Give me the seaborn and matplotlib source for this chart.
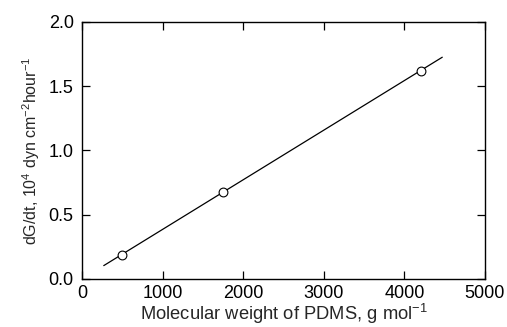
import numpy as np
import pandas as pd
import matplotlib
matplotlib.use("Agg")
import matplotlib.pyplot as plt
import seaborn as sns

# Rate of adhesion build-up vs PDMS molecular weight
mol_weight = [500, 1750, 4200]
dG_dt = [0.19, 0.68, 1.62]

# range of the fitted line
fit_range = [270, 4470]

x_ticks = [0, 1000, 2000, 3000, 4000, 5000]
y_ticks = [0.0, 0.5, 1.0, 1.5, 2.0]

sns.set_style("ticks")
plt.rcParams["font.family"] = ["Liberation Sans", "DejaVu Sans"]

pts = pd.DataFrame({"M": mol_weight, "rate": dG_dt})
slope, intercept = np.polyfit(pts["M"], pts["rate"], 1)
fit = pd.DataFrame({"M": fit_range})
fit["rate"] = slope * fit["M"] + intercept

fig = plt.figure(figsize=(5.07, 3.27), dpi=100)
ax = fig.add_axes([0.1617, 0.1468, 0.7949, 0.786])

sns.lineplot(data=fit, x="M", y="rate", ax=ax, color="black", linewidth=0.9)
sns.scatterplot(data=pts, x="M", y="rate", ax=ax, marker="o", s=40,
                facecolor="white", edgecolor="black", linewidth=0.8, zorder=3)

ax.set_xlim(0, 5000)
ax.set_ylim(0, 2.0)
ax.set_xticks(x_ticks)
ax.set_yticks(y_ticks)
ax.set_xticklabels([str(v) for v in x_ticks])
ax.set_yticklabels([f"{v:.1f}" for v in y_ticks])

for s in ax.spines.values():
    s.set_visible(True)
    s.set_linewidth(1.0)
    s.set_color("black")
ax.tick_params(direction="in", length=6, width=0.9, top=True, right=True,
               labelsize=13, colors="black", pad=4)
ax.tick_params(axis="y", pad=6)

ax.set_xlabel("Molecular weight of PDMS, g mol$^{\\mathregular{-1}}$",
              fontsize=13.2, labelpad=0.5)
ax.set_ylabel("dG/dt, 10$^{\\mathregular{4}}$ dyn cm$^{\\mathregular{-2}}$hour$^{\\mathregular{-1}}$",
              fontsize=11.5, labelpad=5)

fig.savefig("out.png", dpi=100)
